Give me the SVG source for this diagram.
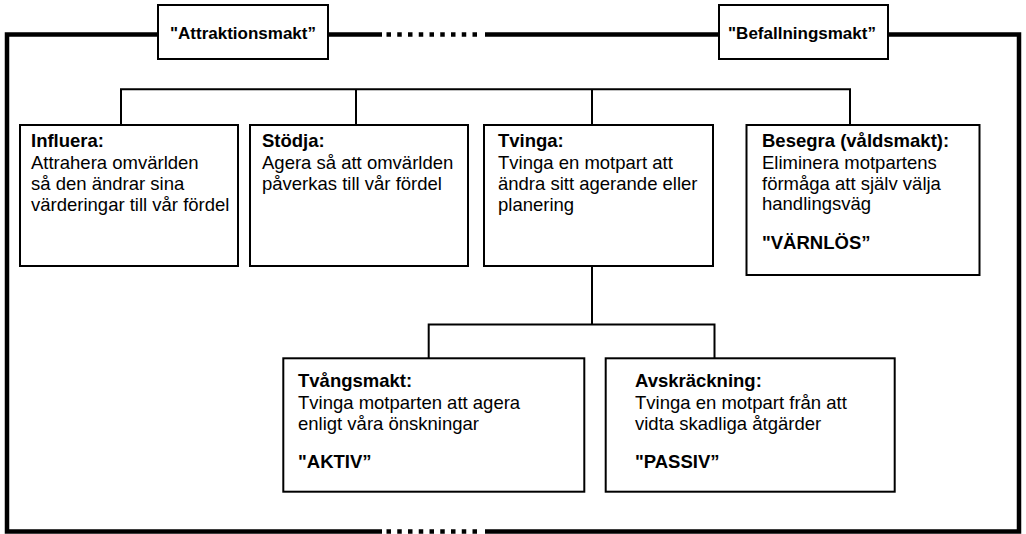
<svg xmlns="http://www.w3.org/2000/svg" width="1026" height="534" viewBox="0 0 1026 534">
<style>
.frame{fill:none;stroke:#000;stroke-width:4.5;stroke-linejoin:miter}
.dots{fill:none;stroke:#000;stroke-width:4.5;stroke-dasharray:4.5 6.25}
.conn{fill:none;stroke:#000;stroke-width:2}
.box{fill:#fff;stroke:#000;stroke-width:2}
text{font-family:"Liberation Sans",Arial,Helvetica,sans-serif;fill:#000}
.lbl{font-size:17px;font-weight:bold;text-anchor:middle}
.t{font-size:18.5px}
.b{font-weight:bold}
</style>
<rect width="1026" height="534" fill="#fff"/>
<g id="frame">
<path class="frame" d="M382,531.5 H7 V34.5 H382"/>
<path class="frame" d="M485,34.5 H1019 V531.5 H485"/>
<line class="dots" x1="386.5" y1="34.5" x2="480" y2="34.5"/>
<line class="dots" x1="386.5" y1="531.5" x2="480" y2="531.5"/>
</g>
<g id="connectors">
<path class="conn" d="M121,125 V89.3 H850 V125"/>
<path class="conn" d="M356,89.3 V125"/>
<path class="conn" d="M592,89.3 V125"/>
<path class="conn" d="M592,266 V324.5"/>
<path class="conn" d="M428.7,358.3 V324.5 H714.5 V358.3"/>
</g>
<g id="attraktionsmakt">
<rect class="box" x="158" y="5" width="170" height="54"/>
<text class="lbl" x="243" y="39">"Attraktionsmakt”</text>
</g>
<g id="befallningsmakt">
<rect class="box" x="719" y="5" width="169" height="54"/>
<text class="lbl" x="802" y="39">"Befallningsmakt”</text>
</g>
<g id="influera">
<rect class="box" x="20" y="125" width="218" height="141"/>
<text class="t" x="31"><tspan class="b" x="31" y="147">Influera:</tspan><tspan x="31" y="168.5">Attrahera omvärlden</tspan><tspan x="31" y="190">så den ändrar sina</tspan><tspan x="31" y="211">värderingar till vår fördel</tspan></text>
</g>
<g id="stodja">
<rect class="box" x="250" y="125" width="218" height="141"/>
<text class="t"><tspan class="b" x="262" y="147">Stödja:</tspan><tspan x="262" y="168.5">Agera så att omvärlden</tspan><tspan x="262" y="190">påverkas till vår fördel</tspan></text>
</g>
<g id="tvinga">
<rect class="box" x="484" y="125" width="229" height="141"/>
<text class="t"><tspan class="b" x="498" y="147">Tvinga:</tspan><tspan x="498" y="168.5">Tvinga en motpart att</tspan><tspan x="498" y="190">ändra sitt agerande eller</tspan><tspan x="498" y="211">planering</tspan></text>
</g>
<g id="besegra">
<rect class="box" x="746.5" y="125" width="233" height="150"/>
<text class="t"><tspan class="b" x="762" y="147">Besegra (våldsmakt):</tspan><tspan x="762" y="168.5">Eliminera motpartens</tspan><tspan x="762" y="190">förmåga att själv välja</tspan><tspan x="762" y="210">handlingsväg</tspan><tspan class="b" x="762" y="248.5">"VÄRNLÖS”</tspan></text>
</g>
<g id="tvangsmakt">
<rect class="box" x="283.3" y="358.3" width="301" height="133.4"/>
<text class="t"><tspan class="b" x="298" y="386.5">Tvångsmakt:</tspan><tspan x="298" y="408.5">Tvinga motparten att agera</tspan><tspan x="298" y="429.5">enligt våra önskningar</tspan><tspan class="b" x="298" y="467.5">"AKTIV”</tspan></text>
</g>
<g id="avskrackning">
<rect class="box" x="605.7" y="358.3" width="289" height="133.4"/>
<text class="t"><tspan class="b" x="635" y="386.5">Avskräckning:</tspan><tspan x="635" y="408.5">Tvinga en motpart från att</tspan><tspan x="635" y="429.5">vidta skadliga åtgärder</tspan><tspan class="b" x="635" y="467.5">"PASSIV”</tspan></text>
</g>
</svg>
